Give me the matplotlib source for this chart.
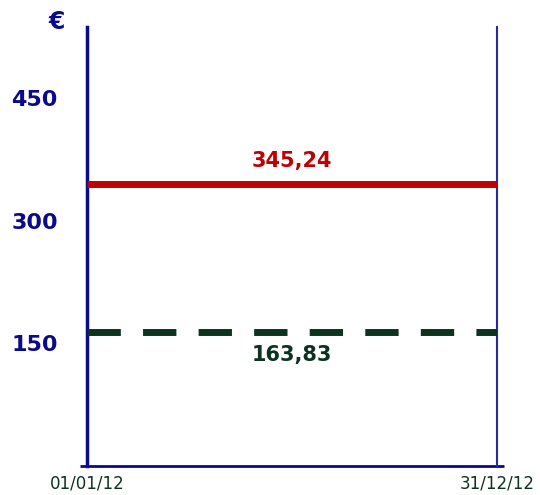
import numpy as np
import pandas as pd
import matplotlib
matplotlib.use('Agg')
import matplotlib.pyplot as plt

# data
dates = pd.to_datetime(['2012-01-01', '2012-12-31'])
date_labels = ['01/01/12', '31/12/12']
red_value = 345.24
green_value = 163.83
y_ticks = [150, 300, 450]

BLUE = '#0a0a8c'
RED = '#c00000'
GREEN = '#0b3320'

fig = plt.figure(figsize=(5.4, 4.95), dpi=100)
ax = fig.add_axes([0.161, 0.059, 0.759, 0.886])

ax.plot(dates, [red_value] * 2, color=RED, lw=5, solid_capstyle='butt', zorder=3)
ax.plot(dates, [green_value] * 2, color=GREEN, lw=5, dashes=(4.8, 3.2),
        dash_capstyle='butt', zorder=3)

mid = dates[0] + (dates[1] - dates[0]) / 2
ax.text(mid, red_value + 16, '345,24', color=RED, fontsize=15, fontweight='bold',
        ha='center', va='bottom')
ax.text(mid, green_value - 16, '163,83', color=GREEN, fontsize=15, fontweight='bold',
        ha='center', va='top')

ax.set_xlim(dates[0], dates[1])
ax.set_ylim(0, 537)

ax.set_yticks(y_ticks)
ax.set_yticklabels([str(v) for v in y_ticks], color=BLUE, fontsize=16, fontweight='bold')
ax.tick_params(axis='y', length=0, pad=21)

ax.set_xticks(dates)
ax.set_xticklabels(date_labels, color=GREEN, fontsize=12)
ax.tick_params(axis='x', length=0, pad=6)

ax.spines['top'].set_visible(False)
ax.spines['left'].set_color(BLUE)
ax.spines['left'].set_linewidth(2.5)
ax.spines['right'].set_color('#2a2aa0')
ax.spines['right'].set_linewidth(1.5)
ax.spines['bottom'].set_visible(False)

# bottom axis line extends a bit past both verticals
ax.plot([-0.018, 1.018], [0, 0], transform=ax.transAxes, color=BLUE, lw=2,
        clip_on=False, solid_capstyle='butt')

fig.text(57 / 540, 1 - 22 / 495, '€', color=BLUE, fontsize=17, fontweight='bold',
         ha='center', va='center')

fig.savefig('out.png', dpi=100)
